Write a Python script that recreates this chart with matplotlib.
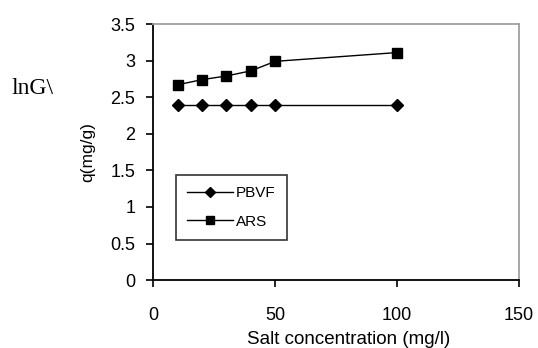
import matplotlib
matplotlib.use('Agg')
import matplotlib.pyplot as plt

# data
salt = [10, 20, 30, 40, 50, 100]
pbvf = [2.40, 2.40, 2.40, 2.40, 2.40, 2.40]
ars = [2.67, 2.74, 2.79, 2.86, 2.99, 3.11]
xticks = [0, 50, 100, 150]
yticks = [0, 0.5, 1, 1.5, 2, 2.5, 3, 3.5]
yticklabels = ['0', '0.5', '1', '1.5', '2', '2.5', '3', '3.5']

plt.rcParams['font.family'] = ['Liberation Sans', 'DejaVu Sans']

fig = plt.figure(figsize=(5.38, 3.48), dpi=100)
ax = fig.add_axes([0.285, 0.195, 0.68, 0.736])

ax.plot(salt, pbvf, color='black', lw=1, marker='D', ms=6, label='PBVF')
ax.plot(salt, ars, color='black', lw=1, marker='s', ms=7, label='ARS')

ax.set_xlim(0, 150)
ax.set_ylim(0, 3.5)
ax.set_xticks(xticks)
ax.set_yticks(yticks)
ax.set_yticklabels(yticklabels)
ax.tick_params(axis='both', direction='out', length=5, width=1.2,
               labelsize=13, colors='black')
ax.tick_params(axis='y', pad=8)
ax.tick_params(axis='x', pad=14)

for s in ['left', 'bottom']:
    ax.spines[s].set_linewidth(1.3)
    ax.spines[s].set_color('black')
for s in ['top', 'right']:
    ax.spines[s].set_linewidth(1.3)
    ax.spines[s].set_color('#a0a0a0')

ax.set_xlabel('Salt concentration (mg/l)', fontsize=13.5)
ax.xaxis.set_label_coords(0.535, -0.2)
ax.set_ylabel('q(mg/g)', fontsize=12.5)
ax.yaxis.set_label_coords(-0.16, 0.5)

leg = ax.legend(loc='lower left', bbox_to_anchor=(0.041, 0.127), fontsize=11,
                frameon=True, fancybox=False, edgecolor='black',
                handlelength=3.0, markerscale=0.8, borderpad=0.75,
                labelspacing=0.95, handletextpad=0.15)
leg.get_frame().set_linewidth(1.2)

# garbled glyphs left of the axis in the original
fig.text(0.022, 0.745, 'lnG\\', fontsize=17, family='Liberation Serif',
         va='center', ha='left')

fig.savefig('out.png', dpi=100)
